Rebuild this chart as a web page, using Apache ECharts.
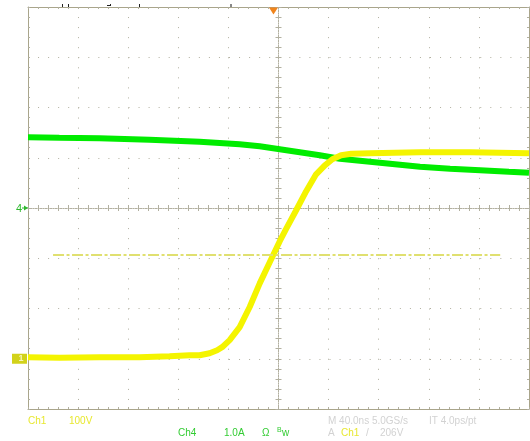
<!DOCTYPE html>
<html><head><meta charset="utf-8">
<script src="https://cdn.jsdelivr.net/npm/echarts@6/dist/echarts.min.js"></script>
<style>html,body{margin:0;padding:0;background:#fff}#c{width:530px;height:441px}</style>
</head><body><div id="c"></div>
<script>
// ---- data (time in ns, Ch1 in volts, Ch4 in amps) ----
const ch1Time  = [-200,-175,-143,-111,-87,-71,-63,-55,-49,-45,-39,-31,-23,-15,-7,1,6,14,22,30,37,43,50,58,73,113,153,200];
const ch1Volts = [3,2,3,3,5,7,7,11,17,23,37,63,103,150,192,234,258,295,333,367,385,397,405,408,409,411,411,409];
const ch4Time  = [-200,-175,-143,-103,-63,-31,-15,1,17,33,49,65,81,97,113,137,161,184,200];
const ch4Amps  = [1.41,1.40,1.39,1.36,1.32,1.27,1.23,1.17,1.11,1.05,0.98,0.94,0.90,0.86,0.82,0.78,0.75,0.72,0.70];
const triggerLevel = 206;          // V, Ch1
const triggerTime = -4;            // ns
const triggerLineSpan = [-180, 177];
const timeAxis = {min:-200, max:200, interval:40};
const ch1Axis  = {min:-100, max:700, interval:100};
const ch4Axis  = {min:-4, max:4, interval:1};
const row1 = [
  {t:'Ch1', x:28, c:'#e8e830'}, {t:'100V', x:69, c:'#e8e830'},
  {t:'M 40.0ns 5.0GS/s', x:328, c:'#d2d2d2'}, {t:'IT 4.0ps/pt', x:429, c:'#d2d2d2'}
];
const row2 = [
  {t:'Ch4', x:178, c:'#33cc33'}, {t:'1.0A', x:224, c:'#33cc33'}, {t:'Ω', x:262, c:'#33cc33'},
  {t:'w', x:282, c:'#33cc33'},
  {t:'A', x:328, c:'#d2d2d2'}, {t:'Ch1', x:341, c:'#e8e830'}, {t:'/', x:366, c:'#d2d2d2'}, {t:'206V', x:380, c:'#d2d2d2'}
];

const FRAME = '#a9a58b', DOT = '#b2b0a0';
const chart = echarts.init(document.getElementById('c'), null, {renderer:'canvas'});

function frameX(pos, split){
  return Object.assign({type:'value', position:pos,
    axisLine:{show:true, onZero:false, lineStyle:{color:FRAME, width:1}},
    axisTick:{show:true, inside:true, length:2, lineStyle:{color:DOT}},
    minorTick:{show:true, splitNumber:5, length:2, lineStyle:{color:DOT}},
    axisLabel:{show:false},
    splitLine:{show:!!split, lineStyle:{color:DOT, width:1, type:[1,9.05]}}}, timeAxis);
}
function centerX(inside){
  return Object.assign({type:'value', position:'bottom',
    axisLine:{show:true, onZero:true, onZeroAxisIndex:1, lineStyle:{color:DOT, type:[1,1.5]}},
    axisTick:{show:true, inside:inside, length:3, lineStyle:{color:DOT}},
    minorTick:{show:true, splitNumber:5, length:3, lineStyle:{color:DOT}},
    axisLabel:{show:false}, splitLine:{show:false}}, timeAxis);
}
function frameY(pos, split){
  return Object.assign({type:'value', position:pos,
    axisLine:{show:true, onZero:false, lineStyle:{color:FRAME, width:1}},
    axisTick:{show:true, inside:true, length:2, lineStyle:{color:DOT}},
    minorTick:{show:true, splitNumber:5, length:2, lineStyle:{color:DOT}},
    axisLabel:{show:false},
    splitLine:{show:!!split, lineStyle:{color:DOT, width:1, type:[1,9.05]}}}, ch4Axis);
}
function centerY(inside){
  return Object.assign({type:'value', position:'left',
    axisLine:{show:true, onZero:true, onZeroAxisIndex:0, lineStyle:{color:DOT, type:[1,1.5]}},
    axisTick:{show:true, inside:inside, length:3, lineStyle:{color:DOT}},
    minorTick:{show:true, splitNumber:5, length:3, lineStyle:{color:DOT}},
    axisLabel:{show:false}, splitLine:{show:false}}, ch4Axis);
}

chart.setOption({
  animation:false,
  backgroundColor:'#ffffff',
  grid:{left:28, right:1, top:7, bottom:32},
  xAxis:[frameX('bottom', true), frameX('top', false), centerX(true), centerX(false)],
  yAxis:[
    Object.assign({type:'value', show:false}, ch1Axis),
    frameY('left', true), frameY('right', false), centerY(true), centerY(false)
  ],
  series:[
    {type:'line', name:'Ch4', xAxisIndex:0, yAxisIndex:1, z:3, symbol:'none', showSymbol:false,
     data: ch4Time.map((t,i)=>[t, ch4Amps[i]]),
     lineStyle:{color:'#00ec00', width:6}},
    {type:'line', name:'Ch1', xAxisIndex:0, yAxisIndex:0, z:4, symbol:'none', showSymbol:false,
     data: ch1Time.map((t,i)=>[t, ch1Volts[i]]),
     lineStyle:{color:'#f4f400', width:6},
     markLine:{silent:true, symbol:['none','none'], label:{show:false},
       lineStyle:{color:'#e0e070', width:2, type:[11,2.5,3,2.5]},
       data:[[{coord:[triggerLineSpan[0], triggerLevel]},{coord:[triggerLineSpan[1], triggerLevel]}]]},
     markPoint:{silent:true, label:{show:false},
       data:[{coord:[triggerTime, ch1Axis.max], symbol:'triangle', symbolSize:[9,7], symbolRotate:180, symbolOffset:[0,4],
              itemStyle:{color:'#f0841c'}}]}
    }
  ]
});

const y4 = chart.convertToPixel({yAxisIndex:1}, 0);
const y1 = chart.convertToPixel({yAxisIndex:0}, 0);
const font = '10px "Liberation Sans", Arial, sans-serif';
const g = [];
row1.forEach(r=>g.push({type:'text', style:{text:r.t, x:r.x, y:421, fill:r.c, font:font, verticalAlign:'middle'}}));
row2.forEach(r=>g.push({type:'text', style:{text:r.t, x:r.x, y:433, fill:r.c, font:font, verticalAlign:'middle'}}));
g.push({type:'text', style:{text:'B', x:277, y:430, fill:'#33cc33', font:'7px "Liberation Sans", Arial, sans-serif', verticalAlign:'middle'}});
// Ch4 ground marker
g.push({type:'text', style:{text:'4', x:16, y:y4+1, fill:'#2db82d', font:'11px "Liberation Sans", Arial, sans-serif', verticalAlign:'middle'}});
g.push({type:'line', shape:{x1:22, y1:y4, x2:28, y2:y4}, style:{stroke:'#2db82d', lineWidth:1}});
g.push({type:'polygon', shape:{points:[[24,y4-2.5],[28,y4],[24,y4+2.5]]}, style:{fill:'#2db82d'}});
// Ch1 ground marker
g.push({type:'rect', shape:{x:12, y:y1-5, width:15, height:10}, style:{fill:'#d2d21a'}});
g.push({type:'text', style:{text:'1', x:18.5, y:y1, fill:'#f6f6b8', font:'bold 9px "Liberation Sans", Arial, sans-serif', verticalAlign:'middle'}});
// small marks above frame
[[62,4,1,3],[68,4,1,3],[107,5,3,1],[110,4,1,2],[139,4,1,3]].forEach(a=>g.push({type:'rect', shape:{x:a[0],y:a[1],width:a[2],height:a[3]}, style:{fill:'#222'}}));
g.push({type:'rect', shape:{x:230,y:4,width:2,height:3}, style:{fill:'#888'}});
chart.setOption({graphic:g});
</script></body></html>
